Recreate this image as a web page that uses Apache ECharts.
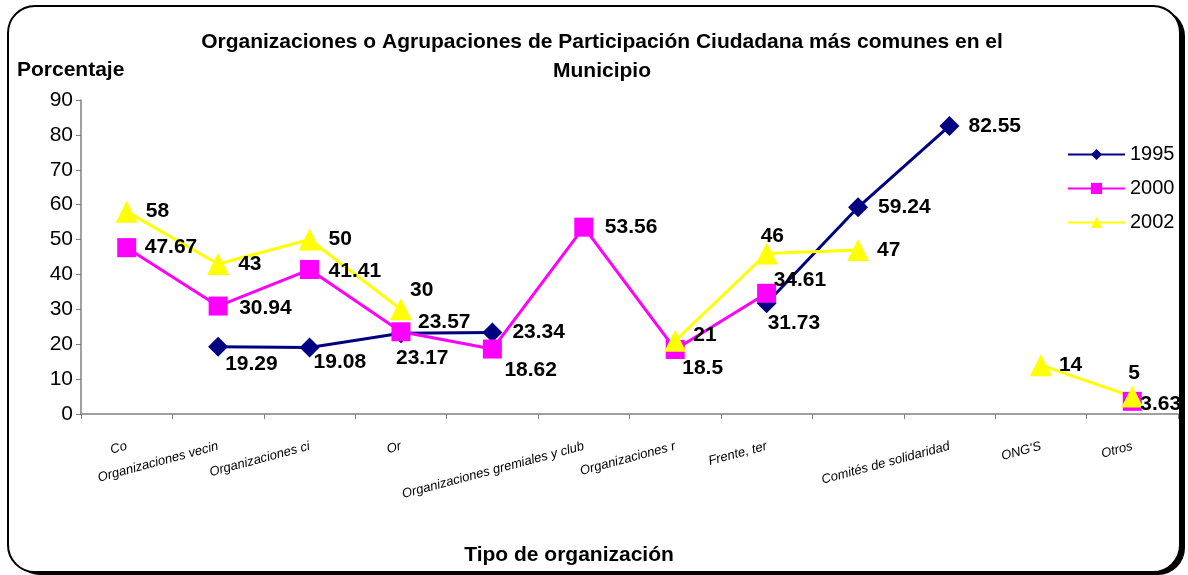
<!DOCTYPE html>
<html>
<head>
<meta charset="utf-8">
<script src="https://cdn.jsdelivr.net/npm/echarts@6/dist/echarts.min.js"></script>
<style>
html,body{margin:0;padding:0;background:#fff;}
#c{width:1188px;height:575px;}
</style>
</head>
<body>
<div id="c"></div>
<script>
// ---- data ----
var categories = ['Co', 'Organizaciones vecin', 'Organizaciones ci', 'Or', '', 'Organizaciones gremiales y club', 'Organizaciones r', 'Frente, ter', '', 'Comités de solidaridad', "ONG'S", 'Otros'];
var years = ['1995', '2000', '2002'];
var v1995 = [null, 19.29, 19.08, 23.17, 23.34, null, null, 31.73, 59.24, 82.55, null, null];
var v2000 = [47.67, 30.94, 41.41, 23.57, 18.62, 53.56, 18.5, 34.61, null, null, null, 3.63];
var v2002 = [58, 43, 50, 30, null, null, 21, 46, 47, null, 14, 5];
var yTicks = [0, 10, 20, 30, 40, 50, 60, 70, 80, 90];

// ---- label placement (offset from point centre: [dx to text start, dy]) ----
var shift1995 = [null, [7, 18], [4, 15], [-5, 25], [20, 0], null, null, [1, 20], [20, 0], [19, 0], null, null];
var shift2000 = [[18, 0], [21, 2], [19, 2], [17, -10], [12, 21], [21, 0], [7, 19], [7, -13], null, null, null, [8, 3]];
var shift2002 = [[19, 0], [20, 0], [19, 0], [9, -19], null, null, [18, -6], [-6, -17], [19, 0], null, [18, 0], [-4, -23]];

var FONT = '"Liberation Sans", Arial, sans-serif';

function buildData(vals, shifts) {
  return vals.map(function (v, i) {
    if (v === null) return null;
    var s = shifts[i] || [15, 0];
    return { value: v, label: { offset: s } };
  });
}

function mkSeries(name, vals, shifts, color, symbol, size) {
  return {
    name: name,
    type: 'line',
    data: buildData(vals, shifts),
    connectNulls: false,
    symbol: symbol,
    symbolSize: size,
    showAllSymbol: true,
    lineStyle: { color: color, width: 3 },
    itemStyle: { color: color, opacity: 1 },
    label: {
      show: true,
      position: 'inside',
      align: 'left',
      verticalAlign: 'middle',
      color: '#000',
      fontFamily: FONT,
      fontWeight: 'bold',
      fontSize: 21,
      textBorderWidth: 0
    },
    emphasis: { disabled: true },
    animation: false,
    z: 3
  };
}

var chart = echarts.init(document.getElementById('c'), null, { renderer: 'canvas' });
chart.setOption({
  backgroundColor: '#fff',
  animation: false,
  graphic: [{
    type: 'rect',
    z: -20,
    silent: true,
    shape: { x: 13, y: 9, width: 1172, height: 566, r: 27 },
    style: { fill: '#000' }
  }, {
    type: 'rect',
    z: -10,
    silent: true,
    shape: { x: 8, y: 6, width: 1172, height: 566, r: 27 },
    style: { fill: '#fff', stroke: '#000', lineWidth: 2 }
  }],
  title: [{
    text: 'Organizaciones o Agrupaciones de Participación Ciudadana más comunes en el\nMunicipio',
    left: 597, top: 23, textAlign: 'center',
    textStyle: { fontFamily: FONT, fontWeight: 'bold', fontSize: 21, lineHeight: 29, color: '#000' }
  }, {
    text: 'Porcentaje',
    left: 12, top: 55,
    textStyle: { fontFamily: FONT, fontWeight: 'bold', fontSize: 21, color: '#000' }
  }, {
    text: 'Tipo de organización',
    left: 564, top: 540, textAlign: 'center',
    textStyle: { fontFamily: FONT, fontWeight: 'bold', fontSize: 21, color: '#000' }
  }],
  legend: {
    orient: 'vertical',
    left: 1062, top: 138,
    itemWidth: 57, itemHeight: 14, itemGap: 11,
    data: years,
    textStyle: { fontFamily: FONT, fontSize: 20, color: '#000', lineHeight: 23 }
  },
  grid: { left: 81, right: 10, top: 100, bottom: 161, containLabel: false },
  xAxis: {
    type: 'category',
    data: categories,
    boundaryGap: true,
    axisLine: { lineStyle: { color: '#808080', width: 1.5 } },
    axisTick: { show: true, interval: 0, length: 5, inside: false, lineStyle: { color: '#808080' } },
    axisLabel: {
      interval: 0, rotate: 15, margin: 32,
      fontFamily: FONT, fontSize: 13, color: '#000', fontStyle: 'italic',
      formatter: function (v, i) { return categories[i]; }
    },
    splitLine: { show: false }
  },
  yAxis: {
    type: 'value',
    min: yTicks[0], max: yTicks[yTicks.length - 1], interval: 10,
    axisLine: { show: true, lineStyle: { color: '#808080', width: 1.5 } },
    axisTick: { show: true, length: 5, inside: false, lineStyle: { color: '#808080' } },
    axisLabel: { fontFamily: FONT, fontSize: 21, color: '#000', margin: 8 },
    splitLine: { show: false }
  },
  series: [
    mkSeries(years[0], v1995, shift1995, '#000080', 'diamond', 20),
    mkSeries(years[1], v2000, shift2000, '#FF00FF', 'rect', 19),
    mkSeries(years[2], v2002, shift2002, '#FFFF00', 'triangle', 22)
  ]
});
</script>
</body>
</html>
